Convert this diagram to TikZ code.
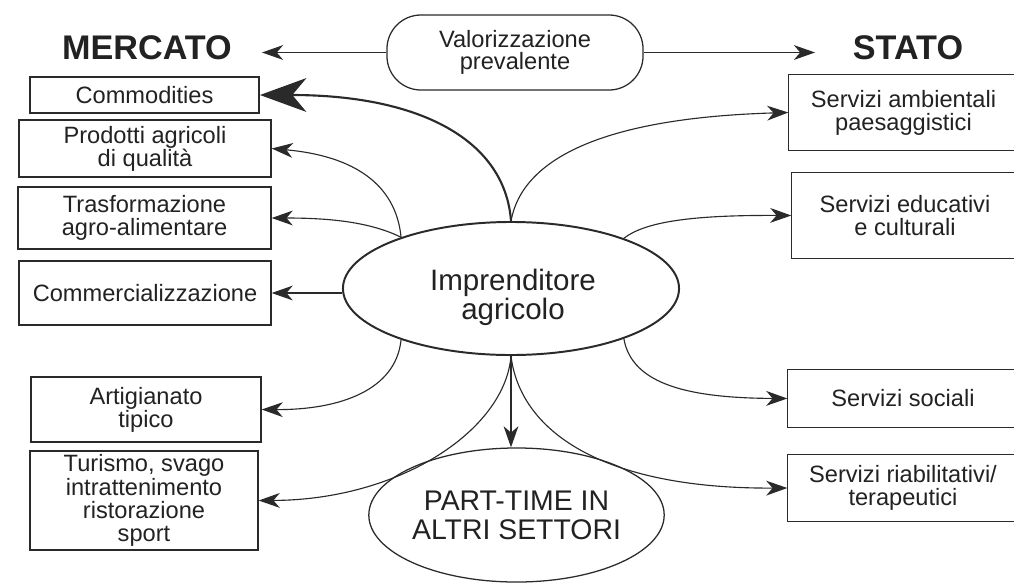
\documentclass[tikz,border=0pt]{standalone}
\usepackage{fontspec}
\setmainfont{Liberation Sans}
\usetikzlibrary{shapes.geometric,arrows.meta}
\definecolor{ink}{HTML}{2A2A2A}
\definecolor{txt}{HTML}{222222}
\begin{document}
\begin{tikzpicture}[x=0.025cm,y=-0.025cm,
  line/.style={draw=ink, line width=0.8pt},
  arr/.style={line, -{Stealth[length=15pt,width=10.5pt,inset=4.5pt]}},
  bigarr/.style={draw=ink, line width=1.5pt, -{Stealth[length=33pt,width=24pt,inset=10pt]}},
  box/.style={draw=ink, line width=0.9pt, inner sep=0pt, align=center, text=txt, font=\fontsize{16.8}{16.5}\selectfont},
  rbox/.style={box, draw=none},
  edge/.style={draw=ink, line width=0.9pt},
  title/.style={text=txt, inner sep=0pt, font=\fontsize{24.3}{24}\selectfont\bfseries},
  oval/.style={draw=ink, ellipse, inner sep=0pt, align=center, text=txt},
]
\fill[white] (0,0) rectangle (1014,587);
\useasboundingbox (0,0) rectangle (1014,587);
\clip (0,0) rectangle (1014,587);

% titles and top element
\node[title] (merc) at (147,48) {MERCATO};
\node[title] (stato) at (908,48) {STATO};
\node[box, rounded corners=0.85cm, minimum width=6.4cm, minimum height=1.875cm,
      font=\fontsize{16.8}{15.5}\selectfont] (val) at (515,52.5) {Valorizzazione\\prevalente};
\coordinate (mtip) at (262,52.5);
\coordinate (stip) at (815,52.5);

% left boxes
\node[box, line width=1.3pt, minimum width=5.725cm, minimum height=0.9cm] (comm) at (144.5,95) {Commodities};
\node[box, minimum width=6.3cm, minimum height=1.425cm] (prod) at (145,148.5) {Prodotti agricoli\\di qualità};
\node[box, minimum width=6.325cm, minimum height=1.55cm] (tras) at (144.5,218) {Trasformazione\\agro-alimentare};
\node[box, minimum width=6.3cm, minimum height=1.6cm] (comc) at (145,293) {Commercializzazione};
\node[box, minimum width=5.75cm, minimum height=1.625cm] (art) at (146,409.5) {Artigianato\\tipico};
\node[box, minimum width=5.7cm, minimum height=2.475cm] (tur) at (144,500.5) {Turismo, svago\\intrattenimento\\ristorazione\\sport};

% right boxes (cut by the right edge of the picture)
\node[rbox, minimum width=5.725cm, minimum height=1.875cm] (amb) at (903.5,112.5) {Servizi ambientali\\paesaggistici};
\node[rbox, minimum width=5.65cm, minimum height=2.125cm] (edu) at (905,215.5) {Servizi educativi\\e culturali};
\node[rbox, minimum width=5.75cm, minimum height=1.425cm] (soc) at (903,398.5) {Servizi sociali};
\node[rbox, minimum width=5.75cm, minimum height=1.65cm] (ria) at (903,488) {Servizi riabilitativi/\\terapeutici};
\foreach \b in {amb,edu,soc,ria}{
  \draw[edge] ([xshift=1cm]\b.north east) -- (\b.north west) -- (\b.south west) -- ([xshift=1cm]\b.south east);
}

% central ellipses
\node[oval, line width=1.4pt, minimum width=8.4cm, minimum height=3.325cm] (imp) at (511,288.5) {};
\node[text=txt, align=center, inner sep=0pt, font=\fontsize{21}{19.4}\selectfont] (impt) at (513,297) {Imprenditore\\agricolo};
\node[oval, line width=0.9pt, minimum width=7.175cm, minimum height=3.35cm,
      font=\fontsize{20.2}{20.8}\selectfont] (pt) at (516.5,515) {PART-TIME IN\\ALTRI SETTORI};

% connectors
\draw[arr] (val.west) -- (mtip);
\draw[arr] (val.east) -- (stip);

\draw[bigarr] (imp.north) .. controls (505,140) and (420,95) .. (comm.east);
\draw[arr] (imp.155) .. controls (396,185) and (355,156) .. (prod.east);
\draw[arr] (imp.155) .. controls (370,222) and (330,218) .. (tras.east);
\draw[arr] (imp.west |- comc.east) -- (comc.east);
\draw[arr] (imp.-155) .. controls (396,390) and (340,410) .. (art.east);
\draw[arr] (imp.south) .. controls (505,430) and (400,500) .. (tur.east);
\draw[arr] (imp.south) -- (imp.south |- pt.north);
\draw[arr] (imp.south) .. controls (520,430) and (600,489) .. (ria.west);
\draw[arr] (imp.-24) .. controls (632,385) and (690,398) .. (soc.west);
\draw[arr] (imp.24) .. controls (645,222) and (690,215) .. (edu.west);
\draw[arr] (imp.north) .. controls (522,160) and (600,118) .. (amb.west);
\end{tikzpicture}
\end{document}
